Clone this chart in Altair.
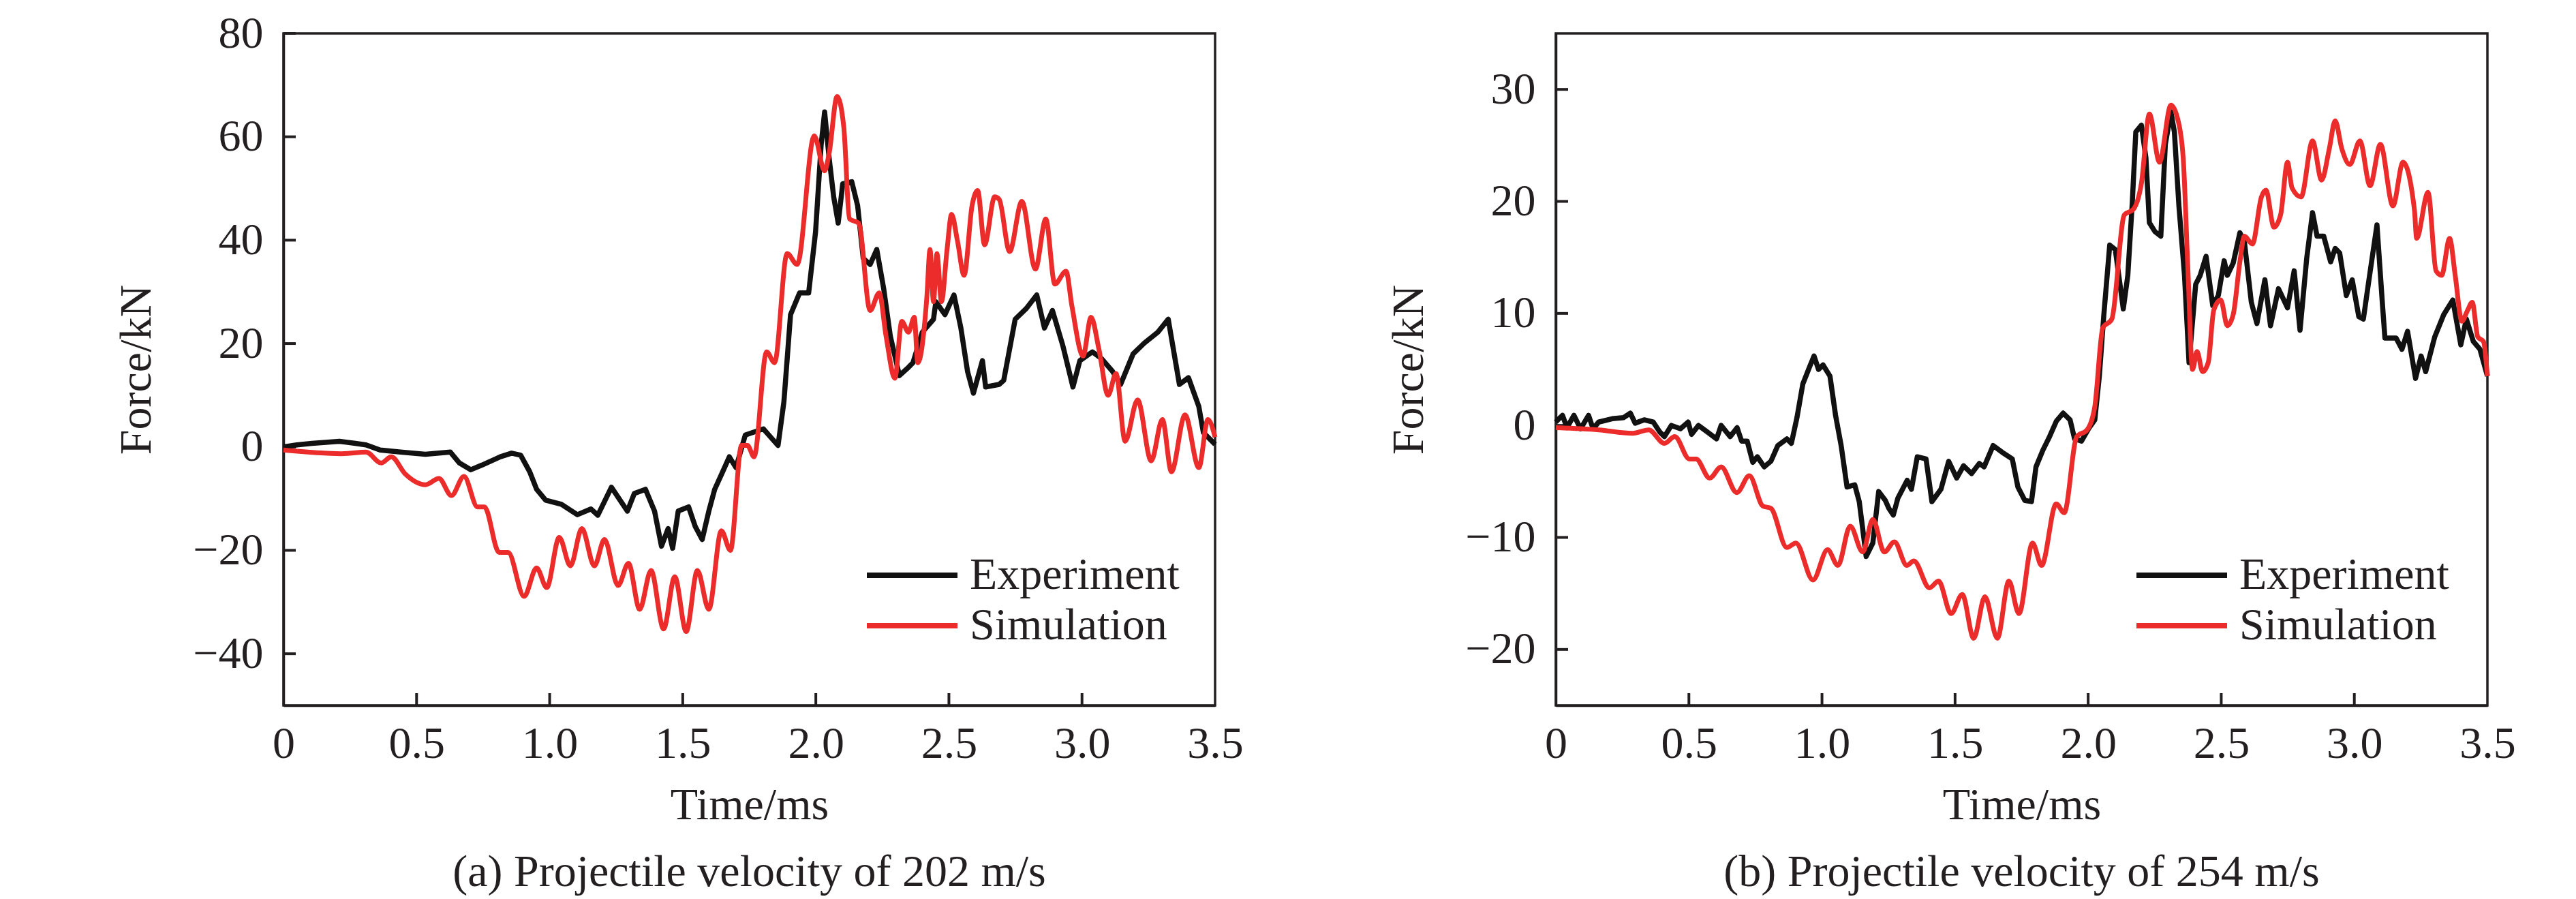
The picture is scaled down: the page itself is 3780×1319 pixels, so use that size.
import altair as alt
import pandas as pd

FONT = "Liberation Serif"
TXT = "#231f20"
BLACK = "#111111"
RED = "#ec2b2b"
FS = 66

W = 1367
H = 986
TICK = 18

series_names = ["Experiment", "Simulation"]
x_ticks = [0, 0.5, 1.0, 1.5, 2.0, 2.5, 3.0, 3.5]
a_y_ticks = [-40, -20, 0, 20, 40, 60, 80]
b_y_ticks = [-20, -10, 0, 10, 20, 30]

# ---------------- (a) 202 m/s ----------------
a_exp_t = [0.0, 0.05, 0.107, 0.21, 0.27, 0.31, 0.363, 0.44, 0.533, 0.627, 0.661, 0.704, 0.746, 0.815, 0.857,
           0.891, 0.925, 0.951, 0.985, 1.044, 1.104, 1.155, 1.181, 1.232, 1.292, 1.318, 1.36, 1.394, 1.42, 1.445,
           1.462, 1.483, 1.522, 1.547, 1.573, 1.598, 1.62, 1.65, 1.675, 1.70, 1.735, 1.803, 1.837, 1.858, 1.88,
           1.905, 1.939, 1.973, 1.999, 2.02, 2.033, 2.05, 2.067, 2.084, 2.101, 2.135, 2.157, 2.178, 2.204, 2.229,
           2.255, 2.28, 2.314, 2.348, 2.365, 2.4, 2.442, 2.451, 2.485, 2.519, 2.545, 2.57, 2.592, 2.626, 2.638,
           2.689, 2.706, 2.749, 2.791, 2.83, 2.859, 2.889, 2.928, 2.966, 2.992, 3.039, 3.073, 3.115, 3.145, 3.192,
           3.234, 3.285, 3.324, 3.366, 3.4, 3.439, 3.456, 3.5]
a_exp_f = [0.0, 0.4, 0.7, 1.1, 0.7, 0.4, -0.6, -1.0, -1.4, -1.0, -3.1, -4.4, -3.5, -1.9, -1.2,
           -1.6, -4.8, -8.2, -10.3, -11.1, -13.1, -12.0, -13.2, -7.8, -12.4, -9.0, -8.2, -12.4, -19.2, -15.8,
           -19.6, -12.4, -11.6, -15.4, -17.9, -12.4, -8.2, -4.8, -1.9, -4.0, 2.3, 3.5, 1.5, 0.3, 8.7,
           25.6, 29.8, 29.8, 41.6, 58.5, 64.8, 55.9, 48.4, 43.3, 50.9, 51.3, 46.7, 36.5, 35.3, 38.2,
           30.6, 21.4, 13.8, 15.4, 16.3, 22.2, 24.7, 28.1, 25.6, 29.4, 23.0, 14.6, 10.4, 16.7, 11.6,
           12.1, 12.9, 24.7, 26.8, 29.4, 23.0, 26.4, 19.6, 11.6, 16.7, 18.4, 17.1, 14.6, 12.1, 18.0,
           20.1, 22.2, 24.7, 12.1, 13.4, 7.8, 2.8, 0.5]

a_sim_t = [0.0, 0.218, 0.31, 0.367, 0.405, 0.457, 0.533, 0.584, 0.631, 0.678, 0.729, 0.755, 0.81, 0.844, 0.904,
           0.951, 0.989, 1.036, 1.078, 1.121, 1.168, 1.206, 1.257, 1.296, 1.338, 1.381, 1.428, 1.47, 1.513, 1.555,
           1.598, 1.645, 1.679, 1.721, 1.743, 1.768, 1.815, 1.845, 1.892, 1.93, 1.994, 2.033, 2.05, 2.08, 2.105,
           2.127, 2.161, 2.204, 2.238, 2.264, 2.297, 2.323, 2.348, 2.37, 2.383, 2.417, 2.429, 2.442, 2.455, 2.472,
           2.493, 2.51, 2.532, 2.557, 2.587, 2.608, 2.634, 2.672, 2.689, 2.728, 2.774, 2.825, 2.864, 2.898, 2.94,
           2.962, 3.004, 3.034, 3.064, 3.098, 3.128, 3.162, 3.209, 3.26, 3.302, 3.336, 3.387, 3.439, 3.473, 3.5]
a_sim_f = [-0.6, -1.3, -1.0, -3.1, -1.9, -5.2, -7.3, -6.1, -9.4, -5.7, -11.6, -11.6, -20.4, -20.4, -28.9,
           -23.4, -27.2, -17.5, -23.0, -15.8, -23.0, -17.9, -26.8, -22.5, -31.4, -23.9, -35.2, -25.1, -35.7, -23.9,
           -31.4, -16.2, -20.0, 0.3, 0.3, -1.9, 18.4, 16.3, 37.4, 35.3, 60.2, 53.4, 56.8, 67.8, 61.9,
           44.1, 43.3, 26.4, 29.8, 21.4, 13.3, 24.3, 22.2, 25.1, 16.3, 28.9, 38.2, 28.1, 37.4, 28.1,
           38.2, 45.0, 39.9, 33.2, 46.7, 49.6, 39.1, 48.4, 47.9, 37.8, 47.5, 34.4, 44.1, 31.5, 34.0,
           27.3, 17.6, 25.1, 18.8, 10.0, 14.2, 1.1, 9.1, -2.7, 5.3, -4.8, 6.2, -4.0, 5.3, 1.9]

# ---------------- (b) 254 m/s ----------------
b_exp_t = [0.0, 0.008, 0.025, 0.042, 0.068, 0.093, 0.123, 0.14, 0.161, 0.212, 0.255, 0.28, 0.298, 0.332, 0.366,
           0.391, 0.408, 0.434, 0.468, 0.497, 0.51, 0.536, 0.57, 0.604, 0.621, 0.655, 0.681, 0.698, 0.719, 0.74,
           0.757, 0.783, 0.808, 0.834, 0.868, 0.885, 0.906, 0.928, 0.953, 0.97, 0.987, 1.004, 1.03, 1.051, 1.072,
           1.094, 1.123, 1.14, 1.166, 1.191, 1.213, 1.238, 1.251, 1.268, 1.285, 1.32, 1.336, 1.358, 1.391, 1.413,
           1.447, 1.476, 1.506, 1.532, 1.562, 1.591, 1.609, 1.643, 1.677, 1.715, 1.736, 1.762, 1.787, 1.804, 1.83,
           1.855, 1.881, 1.906, 1.932, 1.949, 1.975, 2.004, 2.025, 2.042, 2.059, 2.081, 2.102, 2.132, 2.149, 2.166,
           2.179, 2.2, 2.217, 2.23, 2.251, 2.273, 2.29, 2.311, 2.324, 2.341, 2.362, 2.379, 2.404, 2.421, 2.443,
           2.468, 2.489, 2.511, 2.523, 2.545, 2.57, 2.587, 2.613, 2.634, 2.664, 2.685, 2.715, 2.749, 2.774, 2.796,
           2.821, 2.843, 2.86, 2.885, 2.911, 2.928, 2.945, 2.97, 2.992, 3.017, 3.034, 3.055, 3.085, 3.106, 3.115,
           3.157, 3.179, 3.2, 3.23, 3.251, 3.268, 3.302, 3.336, 3.37, 3.4, 3.421, 3.447, 3.472, 3.5]
b_exp_f = [0.3, 0.5, 0.9, -0.2, 0.9, -0.3, 0.9, -0.3, 0.3, 0.6, 0.7, 1.1, 0.2, 0.5, 0.3,
           -0.6, -1.0, 0.0, -0.3, 0.3, -0.8, 0.0, -0.6, -1.2, 0.0, -1.0, -0.2, -1.4, -1.4, -3.3,
           -2.8, -3.7, -3.2, -1.8, -1.2, -1.6, 0.7, 3.7, 5.2, 6.2, 5.0, 5.4, 4.4, 0.9, -1.8,
           -5.5, -5.3, -6.8, -11.7, -10.5, -5.9, -6.7, -7.4, -8.0, -6.5, -4.9, -5.7, -2.8, -3.0, -6.8,
           -5.7, -3.2, -4.7, -3.6, -4.3, -3.4, -3.7, -1.8, -2.4, -3.0, -5.5, -6.7, -6.8, -3.7, -2.2,
           -1.0, 0.4, 1.1, 0.5, -1.2, -1.4, -0.2, 0.5, 4.4, 9.9, 16.1, 15.7, 10.4, 13.4, 20.0,
           26.2, 26.8, 23.9, 18.1, 17.3, 16.9, 25.1, 28.0, 26.2, 19.6, 13.4, 5.6, 12.6, 13.4, 15.1,
           10.7, 11.6, 14.7, 13.4, 14.5, 17.2, 16.4, 11.0, 9.1, 13.0, 8.9, 12.2, 10.5, 13.8, 8.5,
           14.9, 19.0, 16.9, 16.9, 14.6, 15.8, 15.4, 11.6, 13.0, 9.7, 9.5, 13.0, 17.9, 10.7, 7.8,
           7.8, 6.8, 8.4, 4.2, 6.2, 4.8, 7.9, 9.9, 11.2, 7.2, 9.5, 7.5, 6.8, 4.4]

b_sim_t = [0.0, 0.161, 0.289, 0.349, 0.408, 0.447, 0.502, 0.527, 0.578, 0.621, 0.68, 0.727, 0.778, 0.808, 0.868,
           0.902, 0.966, 1.021, 1.06, 1.106, 1.153, 1.191, 1.234, 1.272, 1.319, 1.345, 1.404, 1.438, 1.485, 1.527,
           1.57, 1.612, 1.659, 1.702, 1.74, 1.791, 1.825, 1.88, 1.91, 1.957, 1.996, 2.025, 2.055, 2.089, 2.136,
           2.17, 2.2, 2.23, 2.268, 2.311, 2.336, 2.357, 2.375, 2.392, 2.409, 2.43, 2.451, 2.472, 2.498, 2.523,
           2.545, 2.57, 2.587, 2.617, 2.651, 2.668, 2.698, 2.723, 2.749, 2.766, 2.8, 2.843, 2.877, 2.906, 2.928,
           2.953, 2.983, 3.021, 3.059, 3.098, 3.145, 3.183, 3.226, 3.234, 3.277, 3.307, 3.328, 3.358, 3.379, 3.404,
           3.426, 3.443, 3.464, 3.485, 3.5]
b_sim_f = [-0.2, -0.4, -0.7, -0.4, -1.6, -1.0, -3.0, -3.0, -4.7, -3.7, -6.0, -4.5, -7.2, -7.4, -10.9,
           -10.5, -13.8, -11.1, -12.5, -9.0, -11.3, -8.4, -11.3, -10.4, -12.5, -12.1, -14.5, -13.9, -16.8, -15.1,
           -19.0, -15.3, -19.0, -13.9, -16.8, -10.5, -12.5, -7.0, -7.8, -1.0, -0.4, 1.7, 8.7, 9.5, 18.8,
           19.3, 21.6, 27.8, 23.5, 28.6, 27.4, 23.9, 13.8, 5.0, 6.6, 4.8, 5.6, 10.3, 11.2, 8.9,
           9.9, 14.6, 16.9, 16.2, 20.4, 21.0, 17.7, 18.8, 23.5, 21.2, 20.4, 25.4, 21.9, 24.7, 27.2,
           24.7, 23.3, 25.4, 21.4, 25.1, 19.6, 23.5, 19.2, 16.7, 20.8, 13.8, 13.4, 16.7, 13.4, 9.3,
           10.3, 11.0, 7.9, 7.5, 4.4]


def panel(exp_t, exp_f, sim_t, sim_f, ydom, yvals, caption, legend_x):
    df = pd.concat([
        pd.DataFrame({"t": exp_t, "f": exp_f, "s": series_names[0]}),
        pd.DataFrame({"t": sim_t, "f": sim_f, "s": series_names[1]}),
    ], ignore_index=True)

    xscale = alt.Scale(domain=[0, 3.5], nice=False, zero=False)
    yscale = alt.Scale(domain=ydom, nice=False, zero=False)

    x = alt.X("t:Q", scale=xscale,
              axis=alt.Axis(values=x_ticks, title="Time/ms",
                            labelExpr="datum.value == 0 ? '0' : format(datum.value, '.1f')",
                            ticks=False, grid=False,
                            domainColor=TXT, domainWidth=3.5,
                            labelFont=FONT, labelFontSize=FS, labelColor=TXT, labelPadding=24,
                            labelFlush=False, labelOverlap=False,
                            titleFont=FONT, titleFontSize=FS, titleFontWeight="normal",
                            titleColor=TXT, titlePadding=25))
    y = alt.Y("f:Q", scale=yscale,
              axis=alt.Axis(values=yvals, title="Force/kN",
                            ticks=False, grid=False,
                            domainColor=TXT, domainWidth=3.5,
                            labelFont=FONT, labelFontSize=FS, labelColor=TXT, labelPadding=30,
                            labelFlush=False, labelOverlap=False,
                            titleFont=FONT, titleFontSize=FS, titleFontWeight="normal",
                            titleColor=TXT, titlePadding=48))
    color = alt.Color("s:N",
                      scale=alt.Scale(domain=series_names, range=[BLACK, RED]),
                      legend=alt.Legend(title=None, orient="none", legendX=legend_x, legendY=758,
                                        symbolType="stroke", symbolSize=17689, symbolStrokeWidth=8,
                                        clipHeight=74, rowPadding=0, padding=0, labelOffset=14,
                                        labelFont=FONT, labelFontSize=FS, labelColor=TXT,
                                        labelLimit=600))
    base = alt.Chart(df).encode(x=x, y=y, color=color)
    exp = base.transform_filter(alt.datum.s == series_names[0]).mark_line(
        strokeWidth=7.5, interpolate="linear", strokeJoin="round")
    sim = base.transform_filter(alt.datum.s == series_names[1]).mark_line(
        strokeWidth=7, interpolate="monotone")

    # inward tick marks on the bottom and left axes
    xt = alt.Chart(pd.DataFrame({"tv": x_ticks[1:-1]})).mark_rule(
        color=TXT, strokeWidth=4).encode(
        x=alt.X("tv:Q", scale=xscale), y=alt.value(H), y2=alt.value(H - TICK))
    yt = alt.Chart(pd.DataFrame({"fv": yvals})).mark_rule(
        color=TXT, strokeWidth=4).encode(
        y=alt.Y("fv:Q", scale=yscale), x=alt.value(0), x2=alt.value(TICK))

    return alt.layer(xt, yt, exp, sim).properties(
        width=W, height=H,
        title=alt.TitleParams(caption, orient="bottom", anchor="middle", frame="group",
                              font=FONT, fontSize=FS, fontWeight="normal", color=TXT, offset=34))


left = panel(a_exp_t, a_exp_f, a_sim_t, a_sim_f, [-50, 80], a_y_ticks,
             "(a) Projectile velocity of 202 m/s", 852)
right = panel(b_exp_t, b_exp_f, b_sim_t, b_sim_f, [-25, 35], b_y_ticks,
              "(b) Projectile velocity of 254 m/s", 848)

chart = alt.hconcat(left, right, spacing=207).resolve_scale(
    x="independent", y="independent", color="independent"
).properties(
    padding={"left": 158, "top": 6, "right": 5, "bottom": 0},
    background="white",
).configure_view(stroke=TXT, strokeWidth=3.5)

chart.save("out.html", embed_options={"renderer": "svg", "actions": False})
